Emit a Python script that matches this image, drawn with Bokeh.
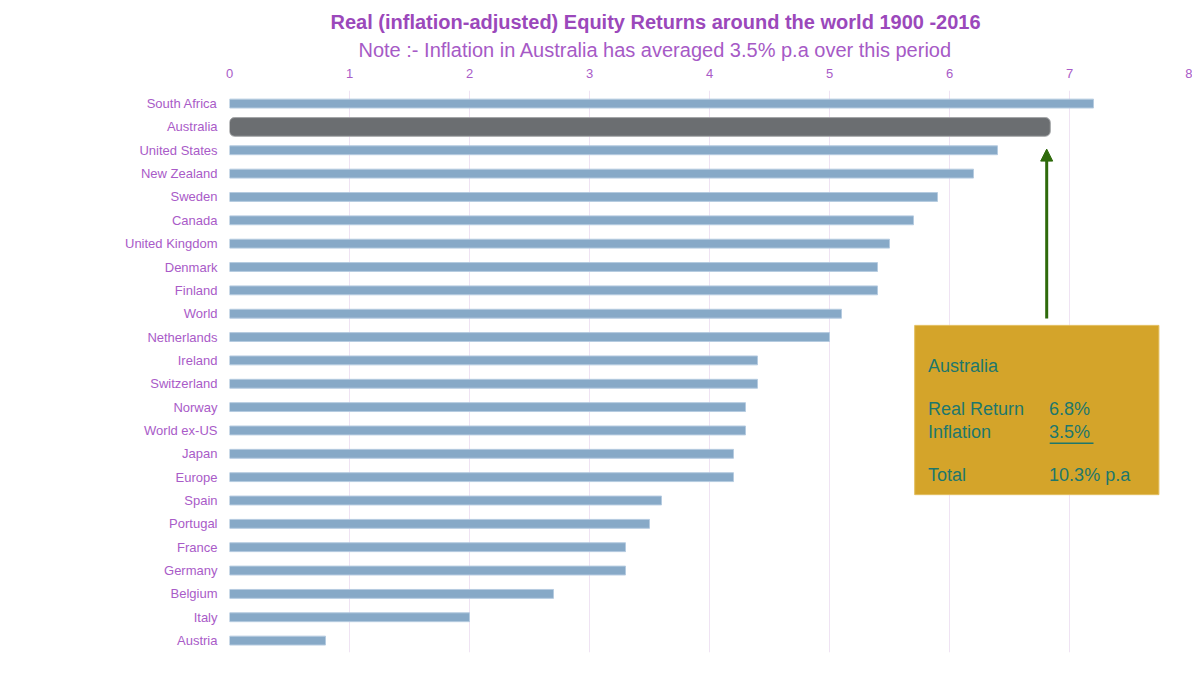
from bokeh.plotting import figure
from bokeh.models import Range1d, FixedTicker, Title, Arrow, NormalHead
from bokeh.core.properties import value
from bokeh.embed import file_html
from bokeh.resources import INLINE

countries = ["South Africa", "Australia", "United States", "New Zealand", "Sweden", "Canada",
             "United Kingdom", "Denmark", "Finland", "World", "Netherlands", "Ireland",
             "Switzerland", "Norway", "World ex-US", "Japan", "Europe", "Spain", "Portugal",
             "France", "Germany", "Belgium", "Italy", "Austria"]
returns = [7.2, 6.84, 6.4, 6.2, 5.9, 5.7, 5.5, 5.4, 5.4, 5.1, 5.0, 4.4, 4.4, 4.3, 4.3,
           4.2, 4.2, 3.6, 3.5, 3.3, 3.3, 2.7, 2.0, 0.8]
x_ticks = [0, 1, 2, 3, 4, 5, 6, 7, 8]

title_text = "Real (inflation-adjusted) Equity Returns around the world 1900 -2016"
subtitle_text = "Note :- Inflation in Australia has averaged 3.5% p.a over this period"

box_rows = ["Australia", "Real Return", "Inflation", "Total"]
box_vals = ["", "6.8%", "3.5%", "10.3% p.a"]

FONT = "Liberation Sans"
PURPLE = "#A95BC8"
TITLE_PURPLE = "#9B48BB"
TEAL = "#1D776C"

ypos = list(range(len(countries)))

p = figure(width=1192, height=674, output_backend="svg", toolbar_location=None,
           x_range=Range1d(0, 8), y_range=Range1d(23.51, -0.56),
           x_axis_location="above", title=None,
           min_border_left=229, min_border_right=3, min_border_top=90, min_border_bottom=22)

p.add_layout(Title(text=subtitle_text, align="left", text_font=FONT, text_font_size="20px",
                   text_font_style="normal", text_color="#A65AC6", offset=129, standoff=9), "above")
p.add_layout(Title(text=title_text, align="left", text_font=FONT, text_font_size="20px",
                   text_font_style="bold", text_color=TITLE_PURPLE, offset=101, standoff=0), "above")

p.outline_line_color = None
p.background_fill_color = "white"
p.border_fill_color = "white"

# grid
p.xgrid.ticker = FixedTicker(ticks=x_ticks)
p.xgrid.grid_line_color = "#EFE3F3"
p.xgrid.grid_line_width = 1
p.ygrid.grid_line_color = None

# axes
xa = p.xaxis[0]
xa.ticker = FixedTicker(ticks=x_ticks)
xa.axis_line_color = None
xa.major_tick_line_color = None
xa.minor_tick_line_color = None
xa.major_label_text_font = FONT
xa.major_label_text_font_size = "13px"
xa.major_label_text_color = PURPLE
xa.major_label_standoff = 7

ya = p.yaxis[0]
ya.ticker = FixedTicker(ticks=ypos)
ya.major_label_overrides = {i: c for i, c in zip(ypos, countries)}
ya.axis_line_color = None
ya.major_tick_line_color = None
ya.minor_tick_line_color = None
ya.major_label_text_font = FONT
ya.major_label_text_font_size = "13px"
ya.major_label_text_color = PURPLE
ya.major_label_standoff = 6

# bars
others_y = [y for y, c in zip(ypos, countries) if c != "Australia"]
others_v = [v for v, c in zip(returns, countries) if c != "Australia"]
aus_i = countries.index("Australia")

p.hbar(y=others_y, right=others_v, left=0, height=0.38, fill_color="#87A9C7",
       line_color="#B5CBE0", line_width=1)
p.hbar(y=[aus_i], right=[returns[aus_i]], left=0, height=0.8, fill_color="#6B6E71",
       line_color="#A3A5A7", line_width=1, border_radius=5)

# arrow
p.add_layout(Arrow(end=NormalHead(size=12, fill_color="#2E6A0B", line_color="#2E6A0B"),
                   x_start=6.81, y_start=9.2, x_end=6.81, y_end=1.95,
                   line_color="#2E6A0B", line_width=3))

# annotation box
p.quad(left=[5.71], right=[7.745], top=[9.5], bottom=[16.75], fill_color="#D4A42A",
       line_color="#E2BE5E", line_width=1)

row_y = [11.22, 13.1, 14.05, 15.89]
p.text(x=[5.82] * 4, y=row_y, text=box_rows, text_font=value(FONT),
       text_font_size="18px", text_color=TEAL, text_baseline="middle", text_align="left")
p.text(x=[6.83] * 4, y=row_y, text=box_vals, text_font=value(FONT),
       text_font_size="18px", text_color=TEAL, text_baseline="middle", text_align="left")
p.segment(x0=[6.835], x1=[7.2], y0=[14.55], y1=[14.55], line_color=TEAL, line_width=1.5)

open("out.html", "w").write(file_html(p, INLINE))
